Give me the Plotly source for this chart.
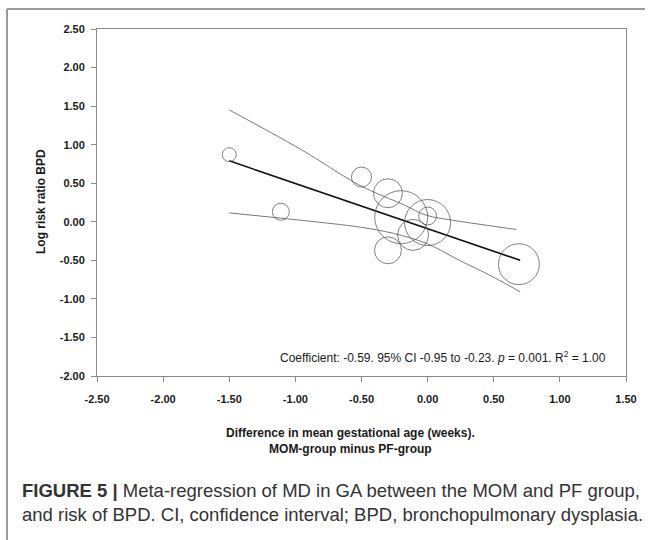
import plotly.graph_objects as go

# ---- data ----
ga_diff = [-1.50, -1.11, -0.50, -0.30, -0.20, 0.00, 0.00, -0.11, -0.30, 0.69]
log_rr = [0.87, 0.13, 0.58, 0.37, 0.06, 0.075, -0.01, -0.17, -0.37, -0.55]
study_weight = [1.9, 2.8, 3.9, 8.1, 27.2, 3.1, 20.5, 9.3, 7.0, 16.2]

fit_x = [-1.50, 0.70]
fit_y = [0.79, -0.50]

upper_x = [-1.50, -0.96, -0.51, -0.18, -0.01, 0.19, 0.445, 0.67]
upper_y = [1.45, 0.94, 0.47, 0.22, 0.085, 0.02, -0.045, -0.10]

lower_x = [-1.50, -0.96, -0.51, -0.26, -0.01, 0.24, 0.495, 0.70]
lower_y = [0.115, 0.02, -0.07, -0.15, -0.28, -0.50, -0.715, -0.91]

x_ticks = [-2.5, -2.0, -1.5, -1.0, -0.5, 0.0, 0.5, 1.0, 1.5]
x_tick_text = ["-2.50", "-2.00", "-1.50", "-1.00", "-0.50", "0.00", "0.50", "1.00", "1.50"]
y_ticks = [-2.0, -1.5, -1.0, -0.5, 0.0, 0.5, 1.0, 1.5, 2.0, 2.5]
y_tick_text = ["-2.00", "-1.50", "-1.00", "-0.50", "0.00", "0.50", "1.00", "1.50", "2.00", "2.50"]

W, H = 655, 540
PLOT_L, PLOT_R, PLOT_T, PLOT_B = 97, 626, 29, 376


def px(x):
    return x / W


def py(y):
    return 1 - y / H


fig = go.Figure()

fig.add_trace(go.Scatter(x=upper_x, y=upper_y, mode="lines", line=dict(color="#7a7a7a", width=1, shape="spline"),
                         hoverinfo="skip", showlegend=False))
fig.add_trace(go.Scatter(x=lower_x, y=lower_y, mode="lines", line=dict(color="#7a7a7a", width=1, shape="spline"),
                         hoverinfo="skip", showlegend=False))
fig.add_trace(go.Scatter(x=fit_x, y=fit_y, mode="lines", line=dict(color="#111111", width=1.6),
                         hoverinfo="skip", showlegend=False))

max_r = 26.5
fig.add_trace(go.Scatter(
    x=ga_diff, y=log_rr, mode="markers",
    marker=dict(symbol="circle-open", size=study_weight, sizemode="area",
                sizeref=max(study_weight) / 2 / max_r ** 2,
                color="#4d4d4d", line=dict(width=1, color="#4d4d4d")),
    showlegend=False))

axis_common = dict(showgrid=False, zeroline=False, showline=True, linecolor="#8a8a8a", linewidth=1,
                   mirror=True, ticks="outside", ticklen=5, tickcolor="#8a8a8a", tickwidth=1,
                   automargin=False,
                   tickfont=dict(family="Liberation Sans, Arial, sans-serif", size=11, color="#1a1a1a",
                                 weight="bold"))

fig.update_xaxes(range=[-2.5, 1.5], tickvals=x_ticks, ticktext=x_tick_text, ticklabelstandoff=8,
                 domain=[px(PLOT_L), px(PLOT_R)], **axis_common)
fig.update_yaxes(range=[-2.0, 2.5], tickvals=y_ticks, ticktext=y_tick_text, ticklabelstandoff=4,
                 domain=[py(PLOT_B), py(PLOT_T)], **axis_common)

ann_font = dict(family="Liberation Sans, Arial, sans-serif", size=12, color="#1a1a1a", weight="bold")
cap_font = dict(family="Liberation Sans, Arial, sans-serif", size=18.5, color="#333333")

fig.add_annotation(text="Log risk ratio BPD", xref="paper", yref="paper", x=px(41), y=py(202),
                   textangle=-90, showarrow=False, font=ann_font, xanchor="center", yanchor="middle")
fig.add_annotation(text="Difference in mean gestational age (weeks).<br>MOM-group minus PF-group",
                   xref="paper", yref="paper", x=px(350), y=py(441), showarrow=False, font=ann_font,
                   xanchor="center", yanchor="middle", align="center")
fig.add_annotation(text="Coefficient: -0.59. 95% CI -0.95 to -0.23. <i>p</i> = 0.001. R<sup>2</sup> = 1.00",
                   xref="paper", yref="paper", x=px(608), y=py(357), showarrow=False,
                   font=dict(family="Liberation Sans, Arial, sans-serif", size=12, color="#1a1a1a"),
                   xanchor="right", yanchor="middle")
fig.add_annotation(text="<b>FIGURE 5 |</b> Meta-regression of MD in GA between the MOM and PF group,",
                   xref="paper", yref="paper", x=px(20), y=py(490), showarrow=False, font=cap_font,
                   xanchor="left", yanchor="middle")
fig.add_annotation(text="and risk of BPD. CI, confidence interval; BPD, bronchopulmonary dysplasia.",
                   xref="paper", yref="paper", x=px(20), y=py(514), showarrow=False, font=cap_font,
                   xanchor="left", yanchor="middle")

frame = dict(color="#9a9a9a", width=2)
fig.add_shape(type="line", xref="paper", yref="paper", x0=px(7), y0=py(9), x1=px(645), y1=py(9), line=frame)
fig.add_shape(type="line", xref="paper", yref="paper", x0=px(7), y0=py(9), x1=px(7), y1=py(540), line=frame)

fig.update_layout(width=W, height=H, margin=dict(l=0, r=0, t=0, b=0, autoexpand=False),
                  paper_bgcolor="white", plot_bgcolor="white")

fig.write_html("out.html", config={"displayModeBar": False},
               post_script="document.body.style.margin='0';document.body.style.padding='0';")
